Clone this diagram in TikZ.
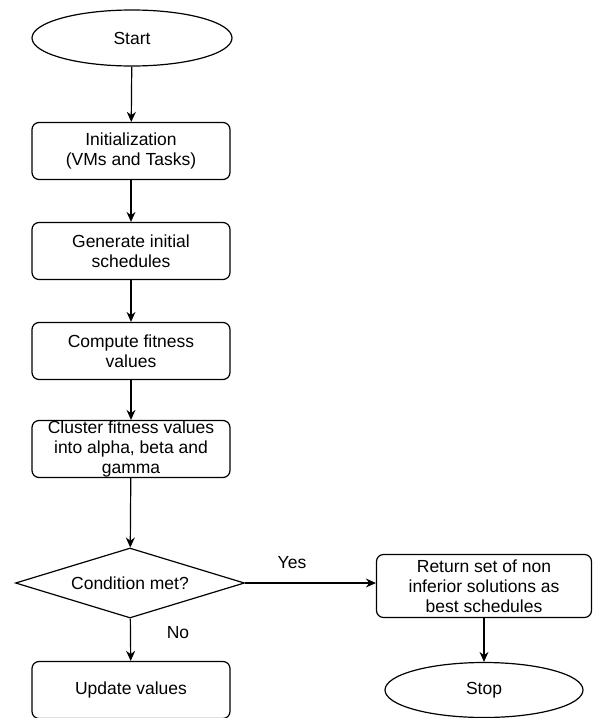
\documentclass[tikz,border=0pt]{standalone}
\usepackage{fontspec}
\setmainfont{Liberation Sans}
\usetikzlibrary{shapes.geometric, arrows.meta, positioning}

\tikzset{
  procbox/.style={draw, rounded corners=7pt, minimum width=198pt, minimum height=57pt, align=center, inner ysep=0pt, line width=1.2pt, font=\fontsize{17.5}{20}\selectfont},
  terminal/.style={draw, ellipse, minimum width=200pt, minimum height=56pt, line width=1.2pt, font=\fontsize{17.5}{20}\selectfont},
  decision/.style={draw, diamond, aspect=3.3, inner sep=0pt, minimum width=229pt, minimum height=70pt, line width=1.2pt, font=\fontsize{17.5}{20}\selectfont},
  flow/.style={-{Stealth[length=10pt, width=9pt]}, line width=1.2pt},
  flowlabel/.style={font=\fontsize{17.5}{20}\selectfont}
}

\begin{document}
\begin{tikzpicture}[x=1pt, y=-1pt]
  \useasboundingbox (0,0) rectangle (595,718);

  % Main column
  \node[terminal] (start) at (132, 38) {Start};
  \node[procbox] (init) at (131, 151) {Initialization\\(VMs and Tasks)};
  \node[procbox] (gen) at (131, 251) {Generate initial\\schedules};
  \node[procbox] (fit) at (131, 351) {Compute fitness\\values};
  \node[procbox] (clus) at (131, 449) {Cluster fitness values\\into alpha, beta and\\gamma};
  \node[decision] (cond) at (130, 583) {Condition met?};
  \node[procbox] (upd) at (131, 690) {Update values};

  % Right column
  \node[procbox, minimum width=215pt, minimum height=63pt] (ret) at (484, 586) {Return set of non\\inferior solutions as\\best schedules};
  \node[terminal, minimum width=198pt, minimum height=55pt] (stop) at (484, 690) {Stop};

  % Labels
  \node[flowlabel] (yes) at (292, 563) {Yes};
  \node[flowlabel] (no) at (178, 633) {No};

  % Connectors
  \draw[flow] (start) -- (init);
  \draw[flow] (init) -- (gen);
  \draw[flow] (gen) -- (fit);
  \draw[flow] (fit) -- (clus);
  \draw[flow] (clus) -- (cond);
  \draw[flow] (cond) -- (upd);
  \draw[flow] (cond.east) -- (cond.east -| ret.west);
  \draw[flow] (ret) -- (stop);
\end{tikzpicture}
\end{document}
